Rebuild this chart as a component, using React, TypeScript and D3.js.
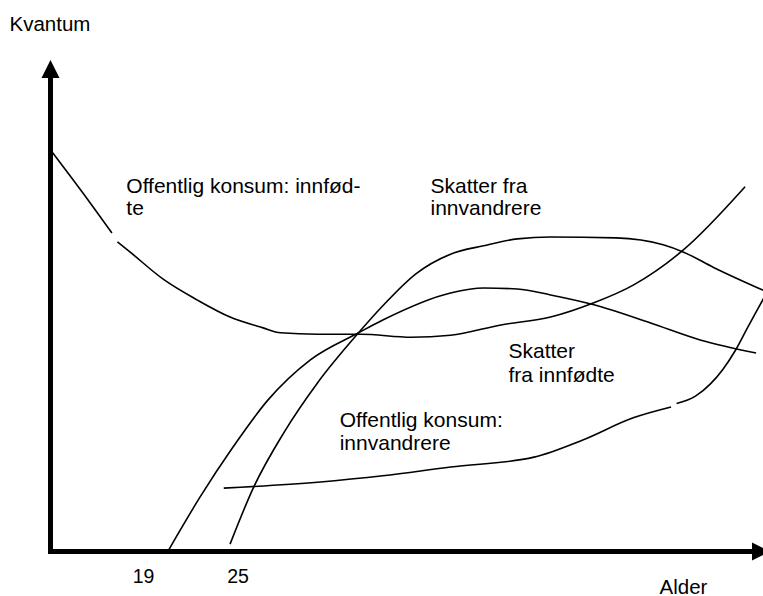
import React from "react";
import * as d3 from "d3";

type Pt = [number, number | null];

// Age (x) vs. quantity (y, arbitrary 0-100 units)
const konsumInnfodte: Pt[] = [
  [13.1, 81.3], [15.0, 73.2], [16.9, 64.8], [17.1, null], [17.25, 63.0], [18.1, 60.8],
  [20.2, 55.3], [22.3, 51.2], [24.4, 47.7], [26.5, 45.5], [27.6, 44.5], [29.95, 44.2],
  [32.7, 44.2], [35.9, 43.6], [38.4, 44.0], [41.6, 46.1], [44.75, 47.7], [47.5, 50.6],
  [50.0, 54.2], [53.2, 61.4], [57.1, 74.2],
];

const skatterInnfodte: Pt[] = [
  [20.5, 0.3], [22.5, 11.1], [24.6, 21.3], [26.8, 30.8], [29.5, 39.0], [32.56, 44.5],
  [34.1, 47.1], [38.4, 52.6], [40.5, 53.6], [42.65, 53.4], [44.75, 52.2], [47.5, 50.2],
  [51.1, 46.5], [54.3, 43.0], [57.8, 40.4],
];

const skatterInnvandrere: Pt[] = [
  [24.4, 1.5], [25.9, 13.1], [27.8, 24.1], [29.95, 34.3], [32.56, 44.5], [34.1, 50.0],
  [36.2, 56.5], [38.4, 60.5], [40.5, 62.2], [42.65, 63.6], [44.75, 64.0], [48.9, 63.8],
  [51.9, 62.4], [53.2, 60.9], [55.1, 57.8], [58.5, 52.8],
];

const konsumInnvandrere: Pt[] = [
  [24.0, 12.9], [29.95, 14.1], [34.1, 15.4], [38.4, 17.2], [43.7, 19.2], [46.8, 22.7],
  [50.0, 27.2], [52.4, 29.4], [52.55, null], [52.75, 30.1], [53.95, 31.6], [54.9, 34.1],
  [55.7, 37.1], [56.5, 41.0], [57.25, 45.5], [57.9, 49.3], [58.5, 52.8],
];

const tickAges = [19, 25];

const series = [konsumInnfodte, skatterInnfodte, skatterInnvandrere, konsumInnvandrere];

const W = 763;
const H = 596;
const FONT = "Arial, 'Liberation Sans', sans-serif";

export default function App() {
  const x = d3.scaleLinear().domain([13, 58]).range([50.5, 759.25]);
  const y = d3.scaleLinear().domain([0, 100]).range([551.5, 60]);

  const line = d3
    .line<Pt>()
    .defined((d) => d[1] != null)
    .x((d) => x(d[0]))
    .y((d) => y(d[1] as number))
    .curve(d3.curveMonotoneX);

  const x0 = x(13);
  const y0 = y(0);
  const yTop = y(100);
  const head = 18;
  const xEnd = 752;

  return (
    <svg
      width={W}
      height={H}
      style={{ position: "absolute", left: 0, top: 0, background: "#fff" }}
      fontFamily={FONT}
    >
      <rect width={W} height={H} fill="#fff" />
      {series.map((s, i) => (
        <path key={i} d={line(s) || ""} fill="none" stroke="#000" strokeWidth={1.6} />
      ))}

      {/* axes */}
      <line x1={x0} x2={x0} y1={yTop + head - 1} y2={y0 + 2.5} stroke="#000" strokeWidth={5} />
      <line x1={x0 - 2.5} x2={xEnd + 1} y1={y0} y2={y0} stroke="#000" strokeWidth={5} />
      <path d={`M${x0},${yTop} L${x0 - 9},${yTop + head} L${x0 + 9},${yTop + head} Z`} fill="#000" />
      <path d={`M${xEnd + head},${y0} L${xEnd},${y0 - 9} L${xEnd},${y0 + 9} Z`} fill="#000" />

      {/* axis labels */}
      <text x={9.5} y={30.7} fontSize={20.5} fill="#000">Kvantum</text>
      <text x={659.5} y={593.5} fontSize={20.5} fill="#000">Alder</text>
      {tickAges.map((a) => (
        <text key={a} x={x(a) - 1.5} y={583.3} fontSize={19.5} textAnchor="middle" fill="#000">
          {a}
        </text>
      ))}

      {/* curve labels */}
      <g fontSize={21} fill="#000">
        <text x={126.3} y={192.7}>Offentlig konsum: innfød-</text>
        <text x={126.3} y={215}>te</text>
        <text x={430.5} y={193}>Skatter fra</text>
        <text x={430.5} y={215}>innvandrere</text>
        <text x={508.5} y={357.5}>Skatter</text>
        <text x={508.5} y={381.5}>fra innfødte</text>
        <text x={339.7} y={426.7}>Offentlig konsum:</text>
        <text x={339.7} y={450}>innvandrere</text>
      </g>
    </svg>
  );
}
